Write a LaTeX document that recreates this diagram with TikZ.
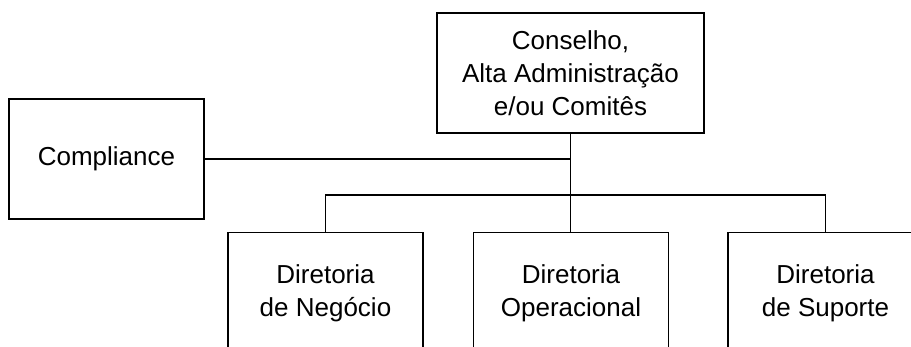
\documentclass[tikz,border=0pt]{standalone}
\usepackage{fontspec}
\setmainfont{Liberation Sans}
\usetikzlibrary{positioning}

\begin{document}
\begin{tikzpicture}[x=1pt, y=-1pt, line width=1.1pt,
  box/.style={draw, rectangle, align=center, inner sep=0pt, minimum width=195pt, minimum height=121pt, font=\fontsize{26}{33}\selectfont}]
\useasboundingbox (0,0) rectangle (911,347);
\node[box, minimum width=267pt, minimum height=120pt] (conselho) at (570.5,73) {Conselho,\\Alta Administração\\e/ou Comitês};
\node[box, minimum height=120pt] (compliance) at (106.5,159) {Compliance};
\node[box] (negocio) at (325.5,293) {Diretoria\\de Negócio};
\node[box] (operacional) at (571,293) {Diretoria\\Operacional};
\node[box] (suporte) at (825.5,293) {Diretoria\\de Suporte};
\coordinate (bus) at (570.5,195);
\draw (conselho.south) -- (conselho.south |- operacional.north);
\draw (compliance.east) -- (compliance.east -| conselho.south);
\draw (negocio.north) |- (bus) -| (suporte.north);
\end{tikzpicture}
\end{document}
